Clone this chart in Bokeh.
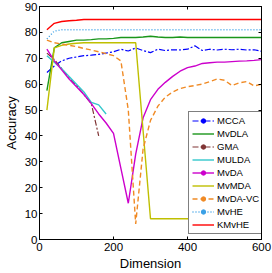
from bokeh.plotting import figure
from bokeh.models import Range1d, LinearAxis, FixedTicker, Legend, LegendItem
from bokeh.embed import file_html
from bokeh.resources import INLINE

dims = [20, 40, 60, 80, 100, 120, 140, 160, 180, 200, 220, 240, 260, 280, 300,
        320, 340, 360, 380, 400, 420, 440, 460, 480, 500, 520, 540, 560, 580, 600]
short_dims = [20, 40, 60, 80, 100, 120, 140, 160, 180]
gma_dims = [20, 40, 60, 80, 100, 120, 140, 160]

mcca = [64.5, 67, 69, 70, 70.5, 71, 71.2, 71.5, 72, 72.5, 73.5, 72.8, 74, 73, 72.2,
        73.5, 73, 73.3, 73.2, 73.5, 74.8, 73, 73.5, 73.2, 73.5, 73.3, 73.5, 73.2, 73.3, 72.7]
mvdla = [57.5, 74, 76, 76.5, 77, 77, 77.2, 77.5, 77.5, 77.7, 78, 78, 78, 78.2, 78.5,
         78.2, 78, 78, 78.2, 78, 78, 78, 78, 78, 78, 78, 78, 78, 78, 78]
gma = [72, 69.5, 66, 62.5, 59.5, 56, 52.5, 40]
mulda = [71, 68.5, 66, 63, 60, 57, 53, 52, 48.5]
mvda = [73.5, 69, 65.5, 62, 59, 56, 52.5, 48.5, 45, 41, 27.5, 14, 33, 47, 54,
        58, 60.7, 63, 65, 66.4, 67, 68, 68.3, 68.5, 68.5, 68.7, 68.9, 69, 69.2, 69.5]
mvmda = [50, 74, 75, 75.5, 75.8, 76, 76, 76, 76, 76, 76, 76, 76, 42, 8,
         8, 8, 8, 8, 8, 8, 8, 8, 8, 8, 8, 8, 8, 8, 8]
mvdavc = [77, 76, 75.5, 75, 74.5, 73.8, 73.2, 72.5, 71.8, 71, 69, 50, 6, 35, 46,
          51.5, 55, 57, 58.3, 59, 59.5, 60, 61, 62, 61.5, 59.5, 60.5, 61, 59.3, 60]
mvhe = [77.5, 80.5, 81, 81, 81, 81, 81, 81, 81, 81, 81, 81, 81, 81, 81,
        81, 81, 81, 81, 81, 81, 81, 81, 81, 81, 81, 81, 81, 81, 81]
kmvhe = [81, 83.5, 84.2, 84.5, 84.7, 85, 85, 85, 85, 85, 85, 85, 85, 85, 85,
         85, 85, 85, 85, 85, 85, 85, 85, 85, 85, 85, 85, 85, 85, 85]

x_ticks = [0, 200, 400, 600]
y_ticks = [0, 10, 20, 30, 40, 50, 60, 70, 80, 90]

FONT = "Liberation Sans"

p = figure(width=272, height=273, output_backend="svg", toolbar_location=None,
           x_range=Range1d(0, 600), y_range=Range1d(0, 90),
           x_axis_label="Dimension", y_axis_label="Accuracy")
p.min_border_left = 33
p.min_border_right = 11
p.min_border_top = 6
p.min_border_bottom = 30
p.outline_line_color = "black"
p.outline_line_width = 1
p.xgrid.visible = False
p.ygrid.visible = False
p.background_fill_color = "white"
p.border_fill_color = "white"

for ax, ticks in ((p.xaxis[0], x_ticks), (p.yaxis[0], y_ticks)):
    ax.ticker = FixedTicker(ticks=ticks)
    ax.major_tick_in = 3
    ax.major_tick_out = 0
    ax.minor_tick_line_color = None
    ax.major_label_text_font = FONT
    ax.major_label_text_font_size = "11.5px"
    ax.major_label_text_color = "black"
    ax.axis_label_text_font = FONT
    ax.axis_label_text_font_size = "13px"
    ax.axis_label_text_font_style = "normal"
    ax.axis_label_text_color = "black"
    ax.axis_line_color = "black"
    ax.major_tick_line_color = "black"
p.xaxis[0].major_label_standoff = 3
p.xaxis[0].axis_label_standoff = 2
p.yaxis[0].major_label_standoff = 2
p.yaxis[0].axis_label_standoff = 3

for loc, ticks in (("above", x_ticks), ("right", y_ticks)):
    ax = LinearAxis(ticker=FixedTicker(ticks=ticks))
    ax.major_label_text_font_size = "0px"
    ax.major_label_text_color = None
    ax.major_tick_in = 3
    ax.major_tick_out = 0
    ax.minor_tick_line_color = None
    ax.major_label_standoff = 0
    ax.axis_line_color = "black"
    p.add_layout(ax, loc)

series = [
    ("MCCA", dims, mcca, "#0000ff", "6 2 2 2", True, 1.2),
    ("MvDLA", dims, mvdla, "#1a961a", "solid", False, 1.4),
    ("GMA", gma_dims, gma, "#803535", "6 2 2 2", True, 1.2),
    ("MULDA", short_dims, mulda, "#33c8cc", "solid", False, 1.4),
    ("MvDA", dims, mvda, "#cc00cc", "solid", True, 1.4),
    ("MvMDA", dims, mvmda, "#bfbf00", "solid", False, 1.4),
    ("MvDA-VC", dims, mvdavc, "#f08a24", "5 3", True, 1.4),
    ("MvHE", dims, mvhe, "#3aa0e6", "1 2", True, 1.4),
    ("KMvHE", dims, kmvhe, "#ff0000", "solid", False, 1.4),
]

items = []
for name, xs, ys, color, dash, marker, lw in series:
    r = p.line(xs, ys, line_color=color, line_width=lw, line_dash=dash)
    rs = [r]
    if marker:
        # dot marker for the legend glyph; its single point lies off the visible range
        s = p.scatter([-1000], [-1000], marker="circle", size=3,
                      fill_color=color, line_color=color)
        rs.append(s)
    items.append(LegendItem(label=name, renderers=rs))

legend = Legend(items=items, location=(149, 5), margin=0, padding=3,
                spacing=2, glyph_width=22, glyph_height=11, label_height=11,
                label_standoff=3, label_text_font=FONT,
                label_text_font_size="9.5px", label_text_color="black",
                label_text_line_height=1.0,
                border_line_color="black", border_line_width=1,
                background_fill_alpha=1.0, background_fill_color="white")
p.add_layout(legend, "center")

html = file_html(p, INLINE)
html = html.replace("<head>", "<head><style>html,body{margin:0;padding:0;overflow:hidden;}</style>", 1)
open("out.html", "w").write(html)
